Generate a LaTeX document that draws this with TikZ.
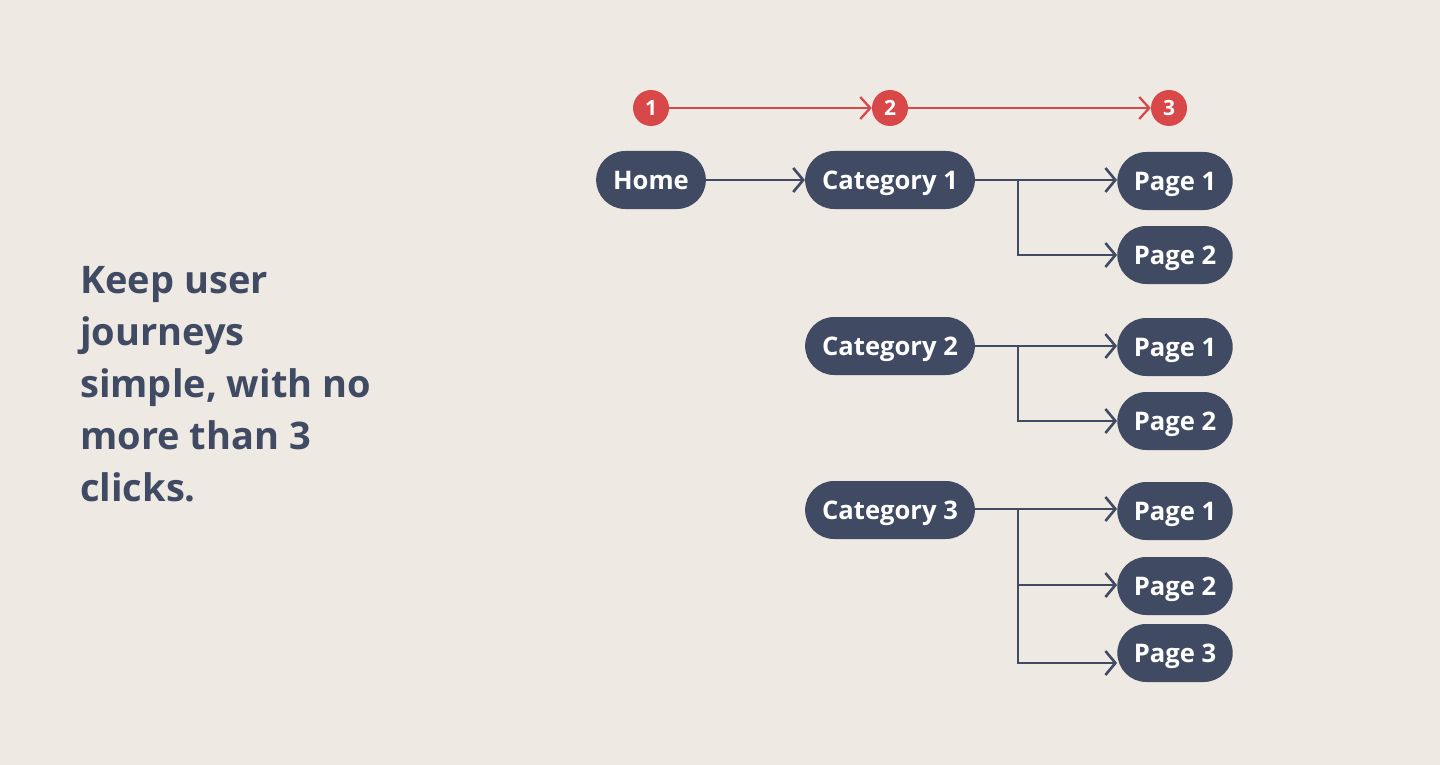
\documentclass[tikz,border=0pt]{standalone}
\usepackage{fontspec}
\setmainfont{Open Sans}
\usetikzlibrary{arrows.meta,positioning}
\definecolor{bgc}{HTML}{EEE9E3}
\definecolor{navy}{HTML}{404B63}
\definecolor{redc}{HTML}{D94848}
\tikzset{
  pill/.style={fill=navy, text=white, rounded corners=29pt, minimum height=58pt, inner xsep=17pt, inner ysep=0pt,
    text height=18.5pt, text depth=0pt,
    font=\fontsize{25.6}{30}\selectfont\bfseries},
  numc/.style={circle, fill=redc, text=white, minimum size=36pt, inner sep=0pt, text height=15pt, text depth=0pt,
    font=\fontsize{21}{24}\selectfont\bfseries},
  conn/.style={draw=navy, line width=2.6pt, -{Straight Barb[length=10pt,width=24pt,line width=2.6pt]}},
  rconn/.style={draw=redc, line width=2.3pt, -{Straight Barb[length=10pt,width=22pt,line width=2.3pt]}},
  lead/.style={font=\fontsize{38}{52}\selectfont\bfseries, text=navy, align=left, anchor=north west, inner sep=0pt}
}
\begin{document}
\begin{tikzpicture}[x=1pt,y=-1pt]
\fill[bgc] (0,0) rectangle (1440,765);
\useasboundingbox (0,0) rectangle (1440,765);

\node[lead] (txt) at (80,266) {Keep user\\journeys\\simple, with no\\more than 3\\clicks.};

\node[numc] (n1) at (651,108) {1};
\node[numc] (n2) at (890,108) {2};
\node[numc] (n3) at (1169,108) {3};
\draw[rconn] (n1) -- (n2);
\draw[rconn] (n2) -- (n3);

\node[pill] (home) at (651,180) {Home};
\node[pill] (c1) at (890,180) {Category 1};
\node[pill] (c2) at (890,346) {Category 2};
\node[pill] (c3) at (890,510) {Category 3};

\node[pill, inner xsep=16.5pt] (p11) at (1175,181) {Page 1};
\node[pill, inner xsep=16.5pt] (p12) at (1175,255) {Page 2};
\node[pill, inner xsep=16.5pt] (p21) at (1175,347) {Page 1};
\node[pill, inner xsep=16.5pt] (p22) at (1175,421) {Page 2};
\node[pill, inner xsep=16.5pt] (p31) at (1175,511) {Page 1};
\node[pill, inner xsep=16.5pt] (p32) at (1175,586) {Page 2};
\node[pill, inner xsep=16.5pt] (p33) at (1175,653) {Page 3};

\draw[conn] (home.east) -- (c1.west);

\coordinate (b1) at (1018,180);
\coordinate (b2) at (1018,346);
\coordinate (b3) at (1018,509);

\draw[conn] (c1.east) -- (p11.west |- c1.east);
\draw[conn] (b1) |- (p12.west);
\draw[conn] (c2.east) -- (p21.west |- c2.east);
\draw[conn] (b2) |- (p22.west);
\draw[conn] (c3.east |- b3) -- (p31.west |- b3);
\draw[conn] (b3) |- (p32.west |- 0,585);
\draw[conn] (b3) |- ([yshift=-10pt]p33.west);
\end{tikzpicture}
\end{document}
